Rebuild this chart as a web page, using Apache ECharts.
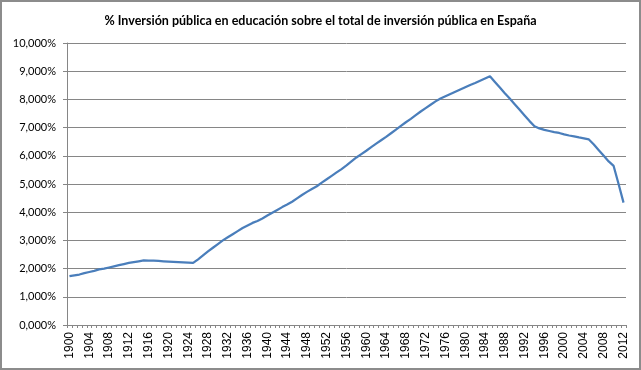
<!DOCTYPE html>
<html>
<head>
<meta charset="utf-8">
<script src="https://cdn.jsdelivr.net/npm/echarts@6/dist/echarts.min.js"></script>
<style>html,body{margin:0;padding:0;background:#fff;}#c{width:641px;height:370px;}</style>
</head>
<body>
<div id="c"></div>
<script>
var titleText = '% Inversión pública en educación sobre el total de inversión pública en España';
var startYear = 1900;
var endYear = 2012;
var years = [];
for (var y = startYear; y <= endYear; y++) years.push(String(y));
var values = [
1.73,1.76,1.79,1.84,1.88,1.92,1.97,2.00,2.04,2.08,
2.12,2.16,2.20,2.23,2.26,2.29,2.28,2.28,2.27,2.26,
2.25,2.24,2.23,2.22,2.21,2.20,2.33,2.47,2.61,2.74,
2.87,3.00,3.11,3.22,3.33,3.44,3.53,3.62,3.69,3.78,
3.88,3.98,4.08,4.18,4.27,4.37,4.49,4.61,4.72,4.82,
4.92,5.05,5.17,5.29,5.41,5.53,5.66,5.80,5.94,6.06,
6.18,6.31,6.43,6.55,6.67,6.80,6.93,7.06,7.19,7.31,
7.44,7.57,7.69,7.81,7.93,8.03,8.11,8.19,8.27,8.35,
8.43,8.51,8.58,8.66,8.74,8.82,8.62,8.42,8.22,8.03,
7.83,7.63,7.43,7.23,7.05,6.97,6.92,6.88,6.84,6.81,
6.76,6.72,6.69,6.65,6.62,6.58,6.40,6.20,6.00,5.80,
5.64,5.00,4.34
];
var yMin = 0, yMax = 10, yStep = 1;

var chart = echarts.init(document.getElementById('c'), null, {renderer: 'canvas'});
chart.setOption({
  animation: false,
  backgroundColor: '#ffffff',
  graphic: [{
    type: 'rect', shape: {x: 1, y: 1, width: 639, height: 368},
    style: {fill: 'none', stroke: '#8c8c8c', lineWidth: 2}, silent: true, z: -1
  }],
  title: {
    text: titleText, left: 'center', top: 9,
    textStyle: {fontFamily: 'Lato, "Open Sans", sans-serif', fontSize: 12.5, fontWeight: 'bold', color: '#000'}
  },
  grid: {left: 67, right: 15, top: 43, bottom: 45, containLabel: false},
  xAxis: {
    type: 'category', data: years, boundaryGap: true,
    axisLine: {lineStyle: {color: '#868686', width: 1}},
    axisTick: {show: true, interval: 0, length: 3, lineStyle: {color: '#868686'}},
    axisLabel: {interval: 3, rotate: 90, fontSize: 12, color: '#000', fontFamily: '"Liberation Sans", Arial, sans-serif', margin: 7},
    splitLine: {show: false}
  },
  yAxis: {
    type: 'value', min: yMin, max: yMax, interval: yStep,
    axisLine: {show: true, lineStyle: {color: '#868686', width: 1}},
    axisTick: {show: true, length: 4, lineStyle: {color: '#868686'}},
    axisLabel: {
      fontSize: 11, color: '#000', fontFamily: 'Lato, "Open Sans", sans-serif', margin: 11,
      formatter: function (v) { return v.toFixed(3).replace('.', ',') + '%'; }
    },
    splitLine: {lineStyle: {color: '#868686', width: 1}}
  },
  series: [{
    type: 'line', data: values, showSymbol: false, symbol: 'none',
    lineStyle: {color: '#4A7EBB', width: 2.25},
    itemStyle: {color: '#4A7EBB'}
  }]
});
</script>
</body>
</html>
